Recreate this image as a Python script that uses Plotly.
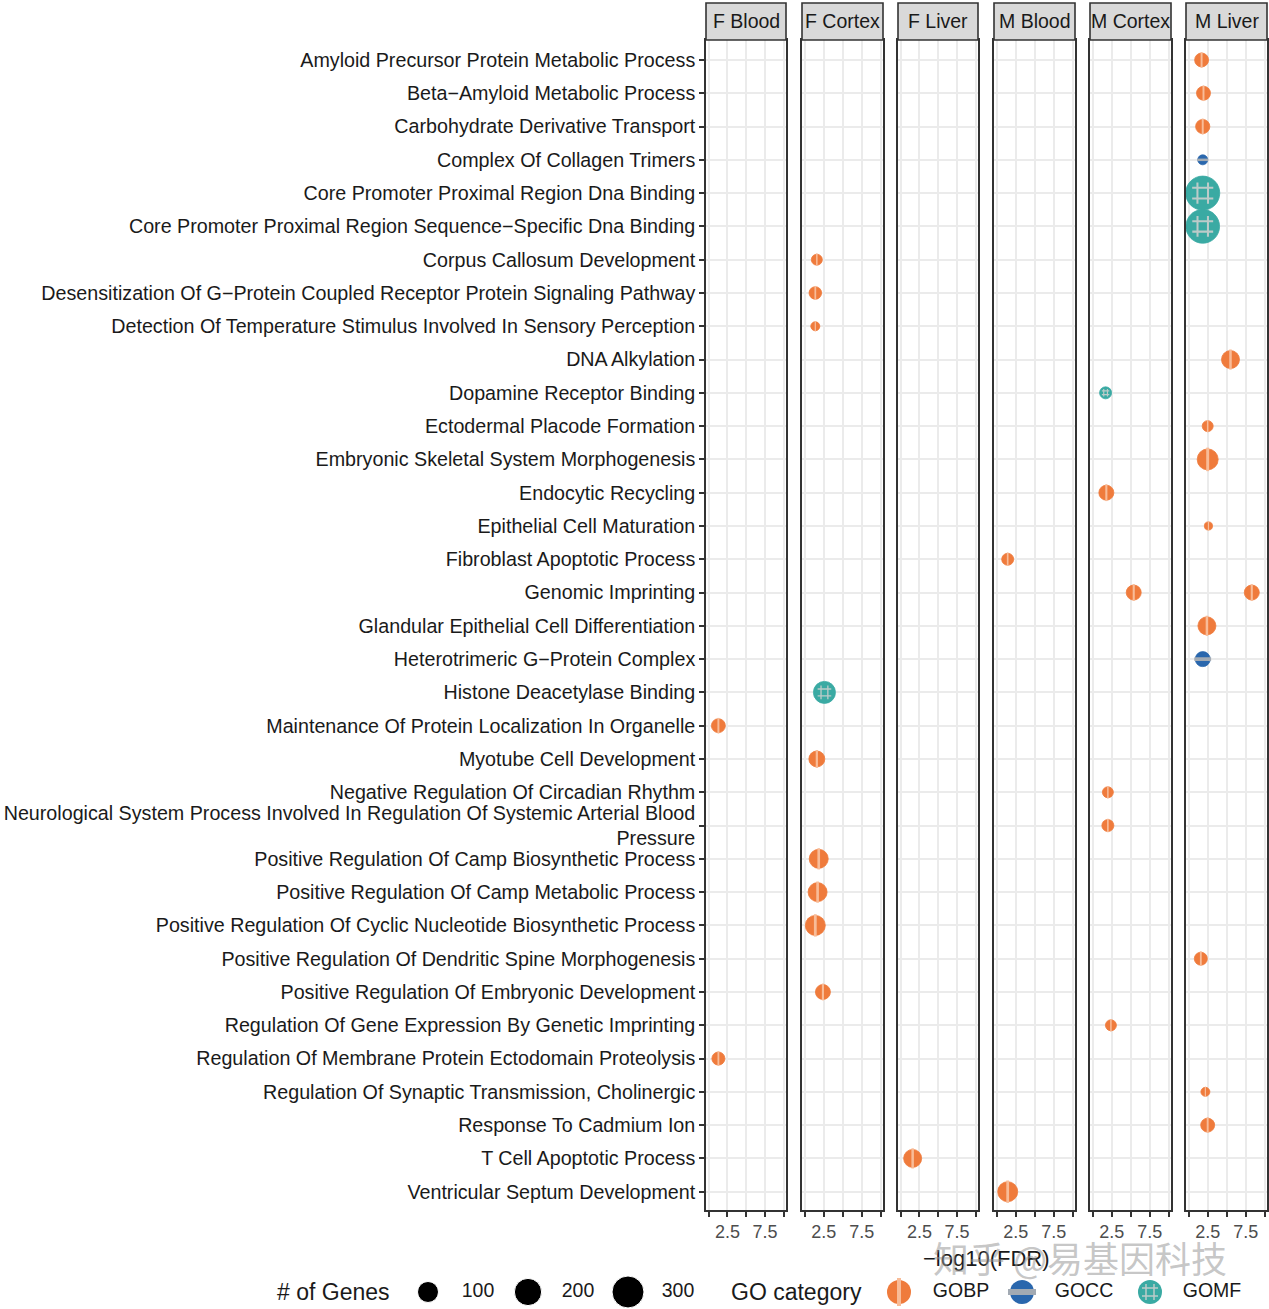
import numpy as np
import plotly.graph_objects as go

W, H = 1269, 1309

panels = ["F Blood", "F Cortex", "F Liver", "M Blood", "M Cortex", "M Liver"]

terms = [
    "Amyloid Precursor Protein Metabolic Process",
    "Beta−Amyloid Metabolic Process",
    "Carbohydrate Derivative Transport",
    "Complex Of Collagen Trimers",
    "Core Promoter Proximal Region Dna Binding",
    "Core Promoter Proximal Region Sequence−Specific Dna Binding",
    "Corpus Callosum Development",
    "Desensitization Of G−Protein Coupled Receptor Protein Signaling Pathway",
    "Detection Of Temperature Stimulus Involved In Sensory Perception",
    "DNA Alkylation",
    "Dopamine Receptor Binding",
    "Ectodermal Placode Formation",
    "Embryonic Skeletal System Morphogenesis",
    "Endocytic Recycling",
    "Epithelial Cell Maturation",
    "Fibroblast Apoptotic Process",
    "Genomic Imprinting",
    "Glandular Epithelial Cell Differentiation",
    "Heterotrimeric G−Protein Complex",
    "Histone Deacetylase Binding",
    "Maintenance Of Protein Localization In Organelle",
    "Myotube Cell Development",
    "Negative Regulation Of Circadian Rhythm",
    "Neurological System Process Involved In Regulation Of Systemic Arterial Blood Pressure",
    "Positive Regulation Of Camp Biosynthetic Process",
    "Positive Regulation Of Camp Metabolic Process",
    "Positive Regulation Of Cyclic Nucleotide Biosynthetic Process",
    "Positive Regulation Of Dendritic Spine Morphogenesis",
    "Positive Regulation Of Embryonic Development",
    "Regulation Of Gene Expression By Genetic Imprinting",
    "Regulation Of Membrane Protein Ectodomain Proteolysis",
    "Regulation Of Synaptic Transmission, Cholinergic",
    "Response To Cadmium Ion",
    "T Cell Apoptotic Process",
    "Ventricular Septum Development",
]
term_labels = [t if not t.startswith("Neurological") else
               "Neurological System Process Involved In Regulation Of Systemic Arterial Blood<br>Pressure"
               for t in terms]

# enrichment records
rec_term = [
    "Amyloid Precursor Protein Metabolic Process",
    "Beta−Amyloid Metabolic Process",
    "Carbohydrate Derivative Transport",
    "Complex Of Collagen Trimers",
    "Core Promoter Proximal Region Dna Binding",
    "Core Promoter Proximal Region Sequence−Specific Dna Binding",
    "Corpus Callosum Development",
    "Desensitization Of G−Protein Coupled Receptor Protein Signaling Pathway",
    "Detection Of Temperature Stimulus Involved In Sensory Perception",
    "DNA Alkylation",
    "Dopamine Receptor Binding",
    "Ectodermal Placode Formation",
    "Embryonic Skeletal System Morphogenesis",
    "Endocytic Recycling",
    "Epithelial Cell Maturation",
    "Fibroblast Apoptotic Process",
    "Genomic Imprinting",
    "Genomic Imprinting",
    "Glandular Epithelial Cell Differentiation",
    "Heterotrimeric G−Protein Complex",
    "Histone Deacetylase Binding",
    "Maintenance Of Protein Localization In Organelle",
    "Myotube Cell Development",
    "Negative Regulation Of Circadian Rhythm",
    "Neurological System Process Involved In Regulation Of Systemic Arterial Blood Pressure",
    "Positive Regulation Of Camp Biosynthetic Process",
    "Positive Regulation Of Camp Metabolic Process",
    "Positive Regulation Of Cyclic Nucleotide Biosynthetic Process",
    "Positive Regulation Of Dendritic Spine Morphogenesis",
    "Positive Regulation Of Embryonic Development",
    "Regulation Of Gene Expression By Genetic Imprinting",
    "Regulation Of Membrane Protein Ectodomain Proteolysis",
    "Regulation Of Synaptic Transmission, Cholinergic",
    "Response To Cadmium Ion",
    "T Cell Apoptotic Process",
    "Ventricular Septum Development",
]
rec_tissue = [
    "M Liver", "M Liver", "M Liver", "M Liver", "M Liver", "M Liver",
    "F Cortex", "F Cortex", "F Cortex", "M Liver", "M Cortex", "M Liver",
    "M Liver", "M Cortex", "M Liver", "M Blood", "M Cortex", "M Liver",
    "M Liver", "M Liver", "F Cortex", "F Blood", "F Cortex", "M Cortex",
    "M Cortex", "F Cortex", "F Cortex", "F Cortex", "M Liver", "F Cortex",
    "M Cortex", "F Blood", "M Liver", "M Liver", "F Liver", "M Blood",
]
rec_neglog10fdr = [
    1.7, 1.95, 1.85, 1.85, 1.85, 1.85,
    1.6, 1.4, 1.4, 5.5, 1.7, 2.5,
    2.5, 1.8, 2.6, 1.45, 5.4, 8.3,
    2.4, 1.85, 2.6, 1.3, 1.6, 2.0,
    2.0, 1.85, 1.7, 1.4, 1.6, 2.4,
    2.4, 1.3, 2.2, 2.5, 1.6, 1.45,
]
rec_genes = [
    28, 28, 30, 7, 350, 340,
    11, 19, 4, 64, 16, 11,
    100, 36, 2, 16, 36, 36,
    64, 36, 114, 28, 44, 11,
    16, 75, 75, 87, 22, 36,
    11, 22, 4, 28, 64, 87,
]
rec_category = [
    "GOBP", "GOBP", "GOBP", "GOCC", "GOMF", "GOMF",
    "GOBP", "GOBP", "GOBP", "GOBP", "GOMF", "GOBP",
    "GOBP", "GOBP", "GOBP", "GOBP", "GOBP", "GOBP",
    "GOBP", "GOCC", "GOMF", "GOBP", "GOBP", "GOBP",
    "GOBP", "GOBP", "GOBP", "GOBP", "GOBP", "GOBP",
    "GOBP", "GOBP", "GOBP", "GOBP", "GOBP", "GOBP",
]

size_legend_values = [100, 200, 300]
categories = ["GOBP", "GOCC", "GOMF"]

# ---------------- styling ----------------
FONT = "Liberation Sans, Arial, sans-serif"
cat_fill = {"GOBP": "#EF7B3C", "GOCC": "#2A67AD", "GOMF": "#3AAAA3"}
cat_pat = {"GOBP": ("line-ns", "#F8BC98"), "GOCC": ("line-ew", "#A2AAB3"),
           "GOMF": ("hash", "#BCCBC9")}


def diam(n):
    return 6 + 1.5 * np.sqrt(np.asarray(n, dtype=float))


panel_px = [(706, 786), (802, 883), (898, 978), (994, 1075), (1090, 1171), (1186, 1267)]
plot_top, plot_bot = 40, 1210
ydom = [1 - plot_bot / H, 1 - plot_top / H]

fig = go.Figure()
layout = dict(
    width=W, height=H, margin=dict(l=0, r=0, t=0, b=0),
    paper_bgcolor="white", plot_bgcolor="white", showlegend=False,
    font=dict(family=FONT, color="#1A1A1A"),
)

rec_term = np.array(rec_term)
rec_tissue = np.array(rec_tissue)
rec_x = np.array(rec_neglog10fdr)
rec_n = np.array(rec_genes)
rec_cat = np.array(rec_category)

shapes, annotations = [], []
for i, (p, (L, R)) in enumerate(zip(panels, panel_px)):
    k = "" if i == 0 else str(i + 1)
    xa, ya = "x" + k, "y" + k
    layout["xaxis" + k] = dict(
        domain=[L / W, R / W], anchor=ya, range=[-0.35, 10.3],
        tickvals=[0, 2.5, 5, 7.5, 10], ticktext=["", "2.5", "", "7.5", ""],
        ticks="outside", ticklen=5, tickwidth=1.5, tickcolor="#333333",
        tickfont=dict(size=18, color="#4D4D4D", family=FONT),
        showline=True, mirror=True, linecolor="#333333", linewidth=1.6,
        showgrid=True, gridcolor="#EBEBEB", gridwidth=1.6, zeroline=False,
        fixedrange=True,
    )
    ycfg = dict(
        domain=ydom, anchor=xa, type="category", categoryorder="array",
        categoryarray=terms, range=[len(terms) - 1 + 0.55, -0.6],
        showline=True, mirror=True, linecolor="#333333", linewidth=1.6,
        showgrid=True, gridcolor="#EBEBEB", gridwidth=1.8, zeroline=False,
        fixedrange=True,
    )
    if i == 0:
        ycfg.update(tickvals=terms, ticktext=term_labels, ticks="outside",
                    ticklen=5, tickwidth=1.5, tickcolor="#333333",
                    tickfont=dict(size=19.7, color="#1A1A1A", family=FONT))
    else:
        ycfg.update(matches="y", showticklabels=False, ticks="")
    layout["yaxis" + k] = ycfg

    # strip header
    shapes.append(dict(type="rect", xref="paper", yref="paper",
                       x0=L / W, x1=R / W, y0=1 - 40 / H, y1=1 - 3 / H,
                       fillcolor="#D9D9D9", line=dict(color="#333333", width=1.6),
                       layer="above"))
    annotations.append(dict(text=p, xref="paper", yref="paper",
                            x=(L + R) / 2 / W, y=1 - 21 / H, showarrow=False,
                            xanchor="center", yanchor="middle",
                            font=dict(size=19.5, color="#1A1A1A", family=FONT)))

    for c in categories:
        m = (rec_tissue == p) & (rec_cat == c)
        if not m.any():
            continue
        d = diam(rec_n[m])
        fig.add_trace(go.Scatter(
            x=rec_x[m], y=rec_term[m], xaxis=xa, yaxis=ya, mode="markers",
            marker=dict(size=d, sizemode="diameter", color=cat_fill[c], opacity=1,
                        line=dict(color=cat_fill[c], width=0.8)),
            text=[f"{c}: {n} genes" for n in rec_n[m]], hoverinfo="text+x+y",
        ))
        sym, pc = cat_pat[c]
        fig.add_trace(go.Scatter(
            x=rec_x[m], y=rec_term[m], xaxis=xa, yaxis=ya, mode="markers",
            marker=dict(symbol=sym, size=d * (0.8 if c != "GOMF" else 0.62),
                        sizemode="diameter", color=pc, opacity=1,
                        line=dict(color=pc, width=np.maximum(1.2, d * (0.14 if c == "GOBP" else 0.25 if c == "GOCC" else 0.06)))),
            hoverinfo="skip",
        ))

# ---------------- bottom legend (own axis) ----------------
layout["xaxis7"] = dict(domain=[0, 1], range=[0, W], anchor="y7", visible=False, fixedrange=True)
layout["yaxis7"] = dict(domain=[0, 0.026], range=[0, 1], anchor="x7", visible=False, fixedrange=True)

size_key_x = [428, 528, 628]
fig.add_trace(go.Scatter(
    x=size_key_x, y=[0.5] * 3, xaxis="x7", yaxis="y7", mode="markers",
    marker=dict(size=diam(size_legend_values), sizemode="diameter", color="black", opacity=1),
    hoverinfo="skip", cliponaxis=False,
))
fig.add_trace(go.Scatter(
    x=[x + 50 for x in size_key_x], y=[0.5] * 3, xaxis="x7", yaxis="y7", mode="text",
    text=[str(v) for v in size_legend_values], textposition="middle center",
    textfont=dict(size=19.5, color="#1A1A1A", family=FONT), hoverinfo="skip", cliponaxis=False,
))
cat_key_x = [899, 1022, 1150]
for c, kx in zip(categories, cat_key_x):
    fig.add_trace(go.Scatter(
        x=[kx], y=[0.5], xaxis="x7", yaxis="y7", mode="markers",
        marker=dict(size=24, color=cat_fill[c], opacity=1, line=dict(width=0)),
        hoverinfo="skip", cliponaxis=False,
    ))
    sym, pc = cat_pat[c]
    fig.add_trace(go.Scatter(
        x=[kx], y=[0.5], xaxis="x7", yaxis="y7", mode="markers",
        marker=dict(symbol=sym, size=20 if c != "GOMF" else 16, color=pc, opacity=1,
                    line=dict(color=pc, width=4 if c == "GOBP" else 6 if c == "GOCC" else 1.5)),
        hoverinfo="skip", cliponaxis=False,
    ))
fig.add_trace(go.Scatter(
    x=[kx + 62 for kx in cat_key_x], y=[0.5] * 3, xaxis="x7", yaxis="y7", mode="text",
    text=categories, textposition="middle center",
    textfont=dict(size=19.5, color="#1A1A1A", family=FONT), hoverinfo="skip", cliponaxis=False,
))

annotations += [
    dict(text="# of Genes", xref="paper", yref="paper", x=333 / W, y=1 - 1292 / H,
         xanchor="center", yanchor="middle",
         showarrow=False, font=dict(size=23, color="#1A1A1A", family=FONT)),
    dict(text="GO category", xref="paper", yref="paper", x=796 / W, y=1 - 1292 / H,
         xanchor="center", yanchor="middle",
         showarrow=False, font=dict(size=23, color="#1A1A1A", family=FONT)),
    dict(text="−log10(FDR)", xref="paper", yref="paper", x=986 / W, y=1 - 1258 / H,
         xanchor="center", yanchor="middle",
         showarrow=False, font=dict(size=22, color="#1A1A1A", family=FONT)),
    dict(text="知乎 @易基因科技", xref="paper", yref="paper", x=1080 / W, y=1 - 1257 / H,
         xanchor="center", yanchor="middle",
         showarrow=False, font=dict(size=36, color="rgba(150,150,150,0.55)",
                                    family="Noto Sans CJK SC")),
]

layout["shapes"] = shapes
layout["annotations"] = annotations
fig.update_layout(**layout)
fig.write_html("out.html", config={"displayModeBar": False},
               post_script="document.body.style.margin='0';document.body.style.overflow='hidden';")
